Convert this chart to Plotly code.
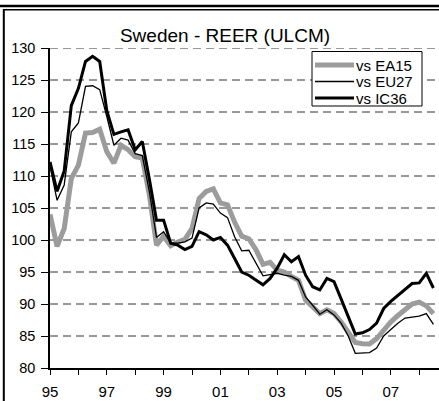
import plotly.graph_objects as go

# Quarterly real effective exchange rate indices (ULCM deflator), 1995Q1-2008Q3
quarters = [1995 + i / 4 for i in range(55)]

vs_ea15 = [104.0, 99.0, 101.8, 109.6, 111.7, 116.7, 116.8, 117.3, 113.8, 112.0,
           114.8, 114.1, 113.0, 112.8, 107.0, 99.2, 100.6, 99.1, 99.7, 100.1,
           101.8, 106.5, 107.6, 108.0, 105.8, 105.5, 102.8, 100.6, 100.2, 98.5,
           96.2, 96.5, 95.3, 95.0, 94.3, 93.7, 90.6, 89.5, 88.5, 89.1,
           88.5, 87.2, 85.5, 84.0, 83.8, 83.75, 84.6, 86.0, 87.2, 88.2,
           89.0, 90.0, 90.3, 89.7, 88.5]

vs_eu27 = [111.5, 106.2, 108.6, 116.9, 118.3, 124.0, 124.1, 123.5, 119.3, 114.8,
           115.9, 115.6, 113.5, 113.2, 107.5, 100.4, 101.3, 99.5, 99.5, 99.7,
           100.3, 105.0, 105.8, 105.6, 104.2, 103.5, 100.5, 98.3, 98.4, 96.4,
           94.4, 94.6, 94.8, 94.5, 94.3, 93.7, 91.1, 89.8, 88.4, 89.1,
           88.3, 87.0, 85.0, 82.3, 82.3, 82.4, 83.1, 85.0, 86.0, 87.0,
           87.8, 88.0, 88.1, 88.5, 86.8]

vs_ic36 = [112.2, 107.6, 110.8, 121.0, 123.7, 127.9, 128.7, 127.9, 120.2, 116.5,
           116.9, 117.2, 114.1, 115.4, 109.5, 103.1, 103.1, 99.5, 99.2, 98.5,
           99.0, 101.3, 100.8, 100.0, 100.4, 99.2, 97.1, 95.0, 94.5, 93.7,
           93.0, 94.0, 95.6, 97.7, 96.6, 97.4, 94.5, 92.7, 92.2, 94.0,
           93.5, 90.8, 88.0, 85.3, 85.5, 86.0, 87.0, 89.3, 90.4, 91.3,
           92.3, 93.2, 93.3, 94.8, 92.5]

series_names = ["vs EA15", "vs EU27", "vs IC36"]
series_values = [vs_ea15, vs_eu27, vs_ic36]
series_styles = [dict(color="#9c9c9c", width=5),
                 dict(color="#000000", width=1.3),
                 dict(color="#000000", width=3)]

year_ticks = list(range(1995, 2009))
year_labels = [f"{y % 100:02d}" if (y - 1995) % 2 == 0 else "" for y in year_ticks]
y_ticks = list(range(80, 131, 5))

W, H = 439, 401
L, R, T, B = 50, 0, 48, 33
FONT = "Liberation Sans, Arial, sans-serif"


def px(xp):
    """pixel x -> paper x"""
    return (xp - L) / (W - L - R)


def py(yp):
    """pixel y (from top) -> paper y"""
    return (H - B - yp) / (H - T - B)


fig = go.Figure()
for name, vals, style in zip(series_names, series_values, series_styles):
    fig.add_trace(go.Scatter(x=quarters, y=vals, name=name, mode="lines",
                             line=style, showlegend=False))

# horizontal dashed gridlines
for v in y_ticks[1:]:
    fig.add_shape(type="line", xref="paper", yref="y", x0=0, x1=1, y0=v, y1=v,
                  line=dict(color="#333333", width=1, dash="8px,5px"), layer="below")

# frame lines around the chart object
fig.add_shape(type="line", xref="paper", yref="paper", x0=px(0), x1=px(W),
              y0=py(6), y1=py(6), line=dict(color="black", width=2.5))
fig.add_shape(type="line", xref="paper", yref="paper", x0=px(3), x1=px(W),
              y0=py(9.8), y1=py(9.8), line=dict(color="black", width=1.5))
fig.add_shape(type="line", xref="paper", yref="paper", x0=px(3.8), x1=px(3.8),
              y0=py(9), y1=py(H), line=dict(color="black", width=2))

# legend box
box_x0, box_x1, box_y0, box_y1 = 312, 422, 51.5, 106
fig.add_shape(type="rect", xref="paper", yref="paper",
              x0=px(box_x0), x1=px(box_x1), y0=py(box_y0), y1=py(box_y1),
              line=dict(color="black", width=1), fillcolor="white")
for k, (name, style) in enumerate(zip(series_names, series_styles)):
    yc = 65 + k * 16.5
    fig.add_shape(type="line", xref="paper", yref="paper",
                  x0=px(315), x1=px(354), y0=py(yc), y1=py(yc), line=style)
    fig.add_annotation(text=name, xref="paper", yref="paper", x=px(354), y=py(yc),
                       xanchor="left", yanchor="middle", showarrow=False,
                       font=dict(size=15, family=FONT, color="black"))

fig.update_layout(
    width=W, height=H,
    margin=dict(l=L, r=R, t=T, b=B),
    paper_bgcolor="white", plot_bgcolor="white",
    font=dict(family=FONT, color="black", size=15),
    title=dict(text="Sweden - REER (ULCM)", x=225 / W, xref="container", xanchor="center",
               y=1 - 35 / H, yref="container", yanchor="middle",
               font=dict(size=19, family=FONT, color="black")),
    showlegend=False,
    xaxis=dict(range=[1995, 1995 + (W - L - R) / 28.4], tickvals=year_ticks,
               ticktext=year_labels, ticks="outside", ticklen=5, tickwidth=1,
               tickcolor="black", showline=True, linecolor="black", linewidth=1.5,
               showgrid=False, zeroline=False, tickfont=dict(size=15),
               ticklabelstandoff=4),
    yaxis=dict(range=[80, 130], tickvals=y_ticks, ticks="outside", ticklen=7,
               tickwidth=1, tickcolor="black", showline=True, linecolor="black",
               linewidth=1.5, showgrid=False, zeroline=False, tickfont=dict(size=14.5),
               ticklabelstandoff=3),
)

fig.write_html("out.html")
